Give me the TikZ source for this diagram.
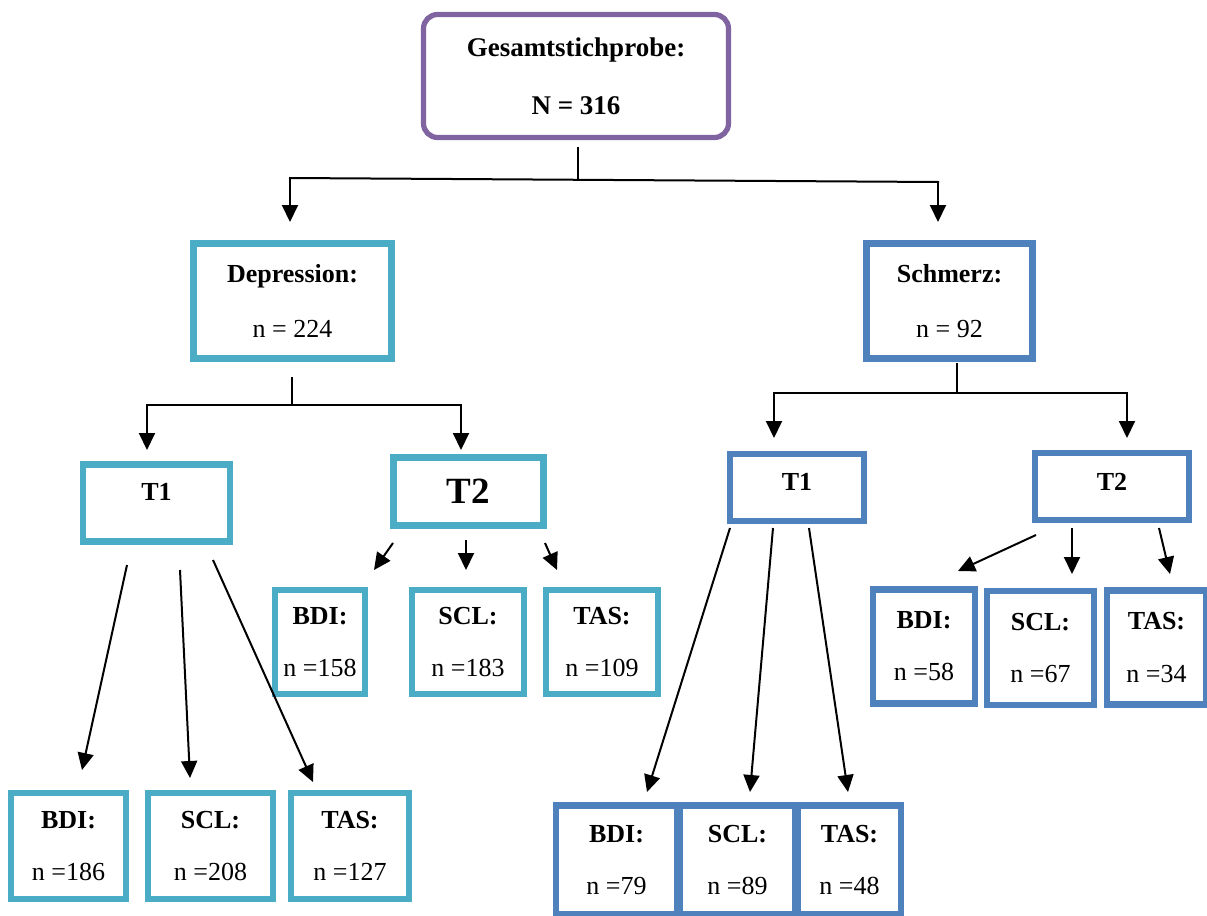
\documentclass[tikz,border=0pt]{standalone}
\usepackage{fontspec}
\setmainfont{Liberation Serif}
\usetikzlibrary{arrows.meta}
\definecolor{cpurple}{HTML}{8064A2}
\definecolor{cteal}{HTML}{4BACC6}
\definecolor{cblue}{HTML}{4F81BD}
\tikzset{
  box/.style={draw, line width=3.3pt, fill=white, inner sep=0pt, align=center,
    font=\fontsize{13}{15.6}\selectfont},
  tealbox/.style={box, draw=cteal},
  bluebox/.style={box, draw=cblue},
  conn/.style={line width=1pt, line cap=rect},
  arr/.style={line width=1pt, -{Triangle[length=8.5pt,width=8pt]}},
}
\newcommand{\bx}[2]{\textbf{#1}\\[10.5pt]#2}
\begin{document}
\begin{tikzpicture}[x=0.5pt,y=-0.5pt]
\useasboundingbox (0,0) rectangle (1207,916);
\begin{scope}
\clip (0,0) rectangle (1207,916);
% top
\node[box, draw=cpurple, line width=2.6pt, rounded corners=7pt,
  minimum width=152.5pt, minimum height=61.5pt,
  font=\fontsize{13.5}{16}\selectfont] (top) at (576,76)
  {\textbf{Gesamtstichprobe:}\\[13pt]\textbf{N = 316}};
% level 1
\node[tealbox, minimum width=99pt, minimum height=57.5pt] (dep) at (292.5,301)
  {\textbf{Depression:}\\[12pt]n = 224};
\node[bluebox, minimum width=83pt, minimum height=57.5pt] (sch) at (949.5,301)
  {\textbf{Schmerz:}\\[12pt]n = 92};
% level 2
\node[tealbox, minimum width=73.5pt, minimum height=38.5pt,
  label={[font=\fontsize{13}{15.6}\selectfont\bfseries, yshift=5.5pt]center:T1}] (dT1) at (156.5,503) {};
\node[tealbox, minimum width=75pt, minimum height=34pt,
  font=\fontsize{18.5}{20}\selectfont\bfseries] (dT2) at (468.5,491.5) {T2};
\node[bluebox, minimum width=67pt, minimum height=33.5pt,
  label={[font=\fontsize{13}{15.6}\selectfont\bfseries, yshift=2.8pt]center:T1}] (sT1) at (797,487.5) {};
\node[bluebox, minimum width=77pt, minimum height=33.5pt,
  label={[font=\fontsize{13}{15.6}\selectfont\bfseries, yshift=2.5pt]center:T2}] (sT2) at (1112,486.5) {};
% Dep T2 children
\node[tealbox, minimum width=45pt, minimum height=52pt] (d2b) at (320,642) {\bx{BDI:}{n =158}};
\node[tealbox, minimum width=56pt, minimum height=52pt] (d2s) at (468,642) {\bx{SCL:}{n =183}};
\node[tealbox, minimum width=56pt, minimum height=52pt] (d2t) at (602,642) {\bx{TAS:}{n =109}};
% Dep T1 children
\node[tealbox, minimum width=57.5pt, minimum height=53pt] (d1b) at (68.5,846) {\bx{BDI:}{n =186}};
\node[tealbox, minimum width=62.5pt, minimum height=53pt] (d1s) at (210.5,846) {\bx{SCL:}{n =208}};
\node[tealbox, minimum width=59pt, minimum height=53pt] (d1t) at (350,846) {\bx{TAS:}{n =127}};
% Schmerz T2 children
\node[bluebox, minimum width=51pt, minimum height=57pt] (s2b) at (924,646.5) {\bx{BDI:}{n =58}};
\node[bluebox, minimum width=53.5pt, minimum height=57pt] (s2s) at (1040.5,648) {\bx{SCL:}{n =67}};
\node[bluebox, minimum width=49.5pt, minimum height=57pt] (s2t) at (1156.5,647.5) {\bx{TAS:}{n =34}};
% Schmerz T1 children
\node[bluebox, minimum width=60.5pt, minimum height=54.5pt] (s1b) at (616.5,860) {\bx{BDI:}{n =79}};
\node[bluebox, minimum width=57.5pt, minimum height=54.5pt] (s1s) at (737.5,860) {\bx{SCL:}{n =89}};
\node[bluebox, minimum width=51.5pt, minimum height=54.5pt] (s1t) at (849.5,860) {\bx{TAS:}{n =48}};
\end{scope}
% connector coordinates
\coordinate (a0) at (578,148); \coordinate (a1) at (578,180);
\coordinate (aL) at (290,178); \coordinate (aR) at (938,182);
\coordinate (aLe) at (290,222); \coordinate (aRe) at (938,222);
\coordinate (b0) at (292,378); \coordinate (b1) at (292,405);
\coordinate (bL) at (147,405); \coordinate (bR) at (461,405);
\coordinate (bLe) at (147,450); \coordinate (bRe) at (461,450);
\coordinate (c0) at (957,364); \coordinate (c1) at (957,393);
\coordinate (cL) at (774,393); \coordinate (cR) at (1127,393);
\coordinate (cLe) at (774,438); \coordinate (cRe) at (1127,438);
% Dep T1 arrows
\coordinate (e1) at (127,565); \coordinate (e1e) at (82,770);
\coordinate (e2) at (180,570); \coordinate (e2e) at (190,778);
\coordinate (e3) at (213,560); \coordinate (e3e) at (313,782);
% Dep T2 arrows
\coordinate (f1) at (393,543); \coordinate (f1e) at (374,570);
\coordinate (f2) at (466,540); \coordinate (f2e) at (466,570);
\coordinate (f3) at (545,543); \coordinate (f3e) at (557,570);
% Sch T1 arrows
\coordinate (g1) at (730,528); \coordinate (g1e) at (647,792);
\coordinate (g2) at (773,528); \coordinate (g2e) at (750,792);
\coordinate (g3) at (809,528); \coordinate (g3e) at (848,792);
% Sch T2 arrows
\coordinate (h1) at (1036,535); \coordinate (h1e) at (958,571);
\coordinate (h2) at (1072,528); \coordinate (h2e) at (1072,574);
\coordinate (h3) at (1159,528); \coordinate (h3e) at (1170,574);
\draw[conn] (a0) -- (a1); \draw[conn] (aL) -- (aR);
\draw[arr] (aL) -- (aLe); \draw[arr] (aR) -- (aRe);
\draw[conn] (b0) -- (b1); \draw[conn] (bL) -- (bR);
\draw[arr] (bL) -- (bLe); \draw[arr] (bR) -- (bRe);
\draw[conn] (c0) -- (c1); \draw[conn] (cL) -- (cR);
\draw[arr] (cL) -- (cLe); \draw[arr] (cR) -- (cRe);
\foreach \p in {e1,e2,e3,f1,f2,f3,g1,g2,g3,h1,h2,h3}
  \draw[arr] (\p) -- (\p e);
\end{tikzpicture}
\end{document}
